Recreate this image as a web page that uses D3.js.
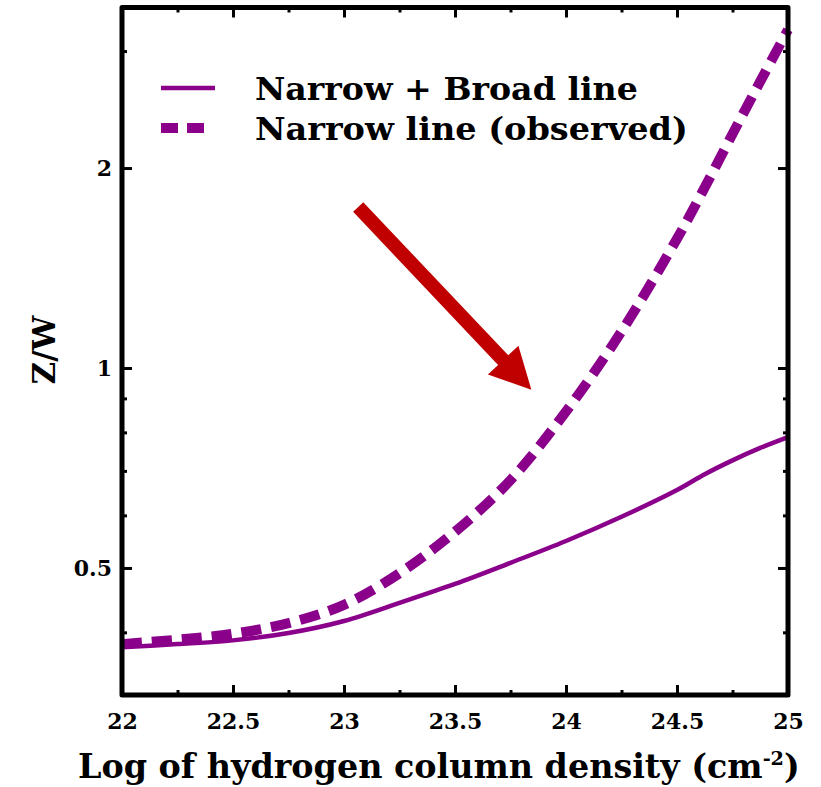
<!DOCTYPE html>
<html lang="en">
<head>
<meta charset="utf-8">
<title>Z/W vs hydrogen column density</title>
<script src="https://cdn.jsdelivr.net/npm/d3@7"></script>
<style>
    body { margin: 0; background: #fff; }
    svg text { font-family: "DejaVu Serif", serif; font-weight: bold; fill: #000; }
</style>
</head>
<body>
<div id="chart"></div>
<script>
// values (log10 N_H, Z/W)
const logNH = [22, 22.25, 22.5, 22.75, 23, 23.25, 23.5, 23.75, 24, 24.25, 24.5, 24.625, 24.75, 24.875, 25];
const narrowBroad = [0.380, 0.384, 0.389, 0.399, 0.416, 0.443, 0.473, 0.509, 0.549, 0.597, 0.655, 0.692, 0.726, 0.758, 0.787];
const narrowObserved = [0.384, 0.390, 0.398, 0.413, 0.440, 0.491, 0.567, 0.678, 0.86, 1.135, 1.565, 1.87, 2.25, 2.7, 3.23];

const xMajor = [22, 22.5, 23, 23.5, 24, 24.5, 25];
const xMinor = [22.25, 22.75, 23.25, 23.75, 24.25, 24.75];
const yMajor = [0.5, 1, 2];
const yMinor = [0.4, 0.6, 0.7, 0.8, 0.9, 3];
const legendLabels = ["Narrow + Broad line", "Narrow line (observed)"];

// annotation arrow, in data units
const arrowFrom = [23.064, 1.747];
const arrowTo = [23.844, 0.927];

const width = 821, height = 787;
const plotL = 122, plotR = 788, plotT = 7.5, plotB = 695;
const purple = "#8b008b";

const svg = d3.select("#chart").append("svg")
    .attr("width", width)
    .attr("height", height);

const x = d3.scaleLinear().domain([22, 25]).range([plotL, plotR]);
const y = d3.scaleLog().domain([0.3219, 3.489]).range([plotB, plotT]);

// the original font is wider than DejaVu, so stretch a text to a given width
function fitWidth(sel, x0, target) {
    const w = sel.node().getBBox().width;
    const sx = target / w;
    sel.attr("transform", `translate(${x0},0) scale(${sx},1) translate(${-x0},0)`);
}

// axes: major ticks with labels, minor ticks without, all pointing inwards
function addAxis(axisFn, scale, values, size, transform, labels, pad) {
    const ax = axisFn(scale).tickValues(values).tickSizeInner(-size).tickSizeOuter(0)
        .tickPadding(pad || 0)
        .tickFormat(labels ? d3.format("") : "");
    const g = svg.append("g").attr("transform", transform).call(ax);
    g.select(".domain").remove();
    g.selectAll("line").attr("stroke", "#000").attr("stroke-width", 3);
    g.selectAll("text").style("font-size", "22px");
    return g;
}

addAxis(d3.axisBottom, x, xMajor, 10, `translate(0,${plotB})`, true, 18);
addAxis(d3.axisBottom, x, xMinor, 5, `translate(0,${plotB})`, false);
addAxis(d3.axisTop, x, xMajor, 10, `translate(0,${plotT})`, false);
addAxis(d3.axisTop, x, xMinor, 5, `translate(0,${plotT})`, false);
addAxis(d3.axisLeft, y, yMajor, 10, `translate(${plotL},0)`, true, 10);
addAxis(d3.axisLeft, y, yMinor, 5, `translate(${plotL},0)`, false);
addAxis(d3.axisRight, y, yMajor, 10, `translate(${plotR},0)`, false);
addAxis(d3.axisRight, y, yMinor, 5, `translate(${plotR},0)`, false);

// curves
const line = d3.line()
    .x((d, i) => x(logNH[i]))
    .y(d => y(d))
    .curve(d3.curveCatmullRom.alpha(0.5));

svg.append("path")
    .datum(narrowBroad)
    .attr("d", line)
    .attr("fill", "none")
    .attr("stroke", purple)
    .attr("stroke-width", 4.5);

svg.append("path")
    .datum(narrowObserved)
    .attr("d", line)
    .attr("fill", "none")
    .attr("stroke", purple)
    .attr("stroke-width", 10)
    .attr("stroke-dasharray", "20,10");

// frame
svg.append("rect")
    .attr("x", plotL).attr("y", plotT)
    .attr("width", plotR - plotL).attr("height", plotB - plotT)
    .attr("fill", "none")
    .attr("stroke", "#000")
    .attr("stroke-width", 5)
    .attr("stroke-linejoin", "round");

// red arrow
const ax0 = x(arrowFrom[0]), ay0 = y(arrowFrom[1]);
const ax1 = x(arrowTo[0]), ay1 = y(arrowTo[1]);
const len = Math.hypot(ax1 - ax0, ay1 - ay0);
const ux = (ax1 - ax0) / len, uy = (ay1 - ay0) / len;
const nx = -uy, ny = ux;
const shaft = 7, headW = 21, headL = 41;
const bx = ax1 - ux * headL, by = ay1 - uy * headL;
const arrowPts = [
    [ax0 + nx * shaft, ay0 + ny * shaft],
    [bx + nx * shaft, by + ny * shaft],
    [bx + nx * headW, by + ny * headW],
    [ax1, ay1],
    [bx - nx * headW, by - ny * headW],
    [bx - nx * shaft, by - ny * shaft],
    [ax0 - nx * shaft, ay0 - ny * shaft]
];
svg.append("polygon")
    .attr("points", arrowPts.map(p => p.join(",")).join(" "))
    .attr("fill", "#c00000");

// legend
const legend = svg.append("g");
const legendEnds = [638, 688];
legendLabels.forEach((lab, i) => {
    const ly = 88 + i * 40;
    legend.append("line")
        .attr("x1", 161).attr("x2", i === 0 ? 215 : 208)
        .attr("y1", ly).attr("y2", ly)
        .attr("stroke", purple)
        .attr("stroke-width", i === 0 ? 4.5 : 10)
        .attr("stroke-dasharray", i === 0 ? null : "17,9");
    const t = legend.append("text")
        .attr("x", 255).attr("y", ly + 12)
        .style("font-size", "31px")
        .text(lab);
    fitWidth(t, 255, legendEnds[i] - 255);
});

// axis titles
const xt = svg.append("text")
    .attr("x", 78).attr("y", 778)
    .style("font-size", "33px");
xt.append("tspan").text("Log of hydrogen column density (cm");
xt.append("tspan").attr("dy", -13).style("font-size", "19px").text("-2");
xt.append("tspan").attr("dy", 13).text(")");
fitWidth(xt, 78, 722);

svg.append("text")
    .attr("transform", "translate(55,350) rotate(-90)")
    .attr("text-anchor", "middle")
    .style("font-size", "31px")
    .text("Z/W");
</script>
</body>
</html>
